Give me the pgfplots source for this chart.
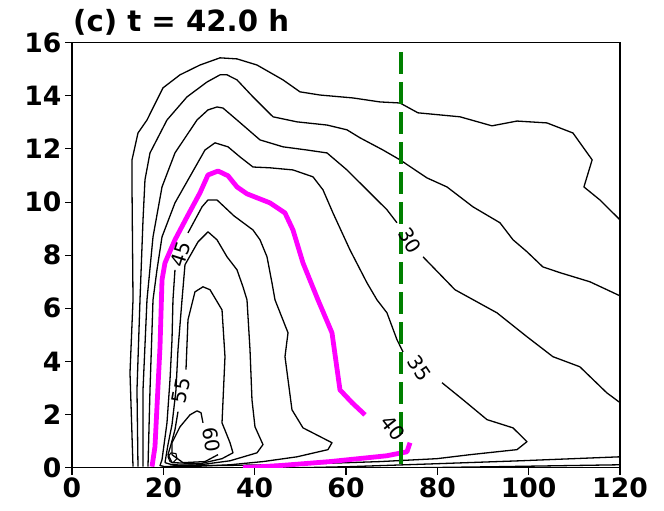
\documentclass[border=0pt]{standalone}
\usepackage{pgfplots}
\pgfplotsset{compat=1.18}
\usepackage{fontspec}
\setmainfont{DejaVu Sans}
\definecolor{dgreen}{RGB}{0,128,0}
\definecolor{mag}{RGB}{255,0,255}
\begin{document}
\begin{tikzpicture}
\begin{axis}[name=ax,
  width=548bp, height=425bp, scale only axis,
  xmin=0, xmax=120, ymin=0, ymax=16,
  xtick={0,20,...,120}, ytick={0,2,...,16},
  tick align=outside, xtick pos=bottom, ytick pos=left,
  major tick length=7bp,
  every tick/.style={black, line width=1.1bp},
  axis line style={line width=1.1bp},
  /pgf/number format/assume math mode=true,
  ticklabel style={font=\fontsize{26.7}{28}\selectfont\bfseries},
  clip=true,
  every axis plot/.append style={line join=round},
]
% 20
\addplot[black, line width=1.3bp] coordinates {(13.36,0.04)(12.70,3.57)(13.36,6.32)(13.14,10.57)(13.14,11.59)(14.45,12.60)(16.42,13.09)(19.93,14.30)(23.65,14.79)(28.03,15.16)(32.41,15.43)(36.13,15.39)(40.51,15.16)(46.20,14.60)(49.92,14.15)(54.30,14.03)(61.53,13.92)(67.44,13.77)(71.82,13.73)(75.76,13.36)(84.96,13.21)(91.96,12.87)(97.44,13.05)(104.0,12.98)(109.7,12.60)(113.9,11.59)(112.1,10.57)(115.6,10.08)(120,9.33)};
% 25
\addplot[black, line width=1.3bp] coordinates {(14.45,0.04)(14.23,2.93)(14.89,6.32)(15.55,9.33)(15.98,10.84)(17.08,11.85)(20.80,13.09)(25.18,13.96)(29.56,14.52)(32.41,14.79)(33.94,14.79)(36.13,14.60)(39.63,13.96)(44.01,13.21)(49.27,13.02)(55.84,12.90)(60.21,12.72)(63.06,12.42)(68.10,11.96)(71.82,11.59)(77.73,10.91)(82.11,10.57)(87.81,9.82)(93.72,9.22)(96.57,8.58)(99.63,8.13)(103.1,7.56)(106.9,7.34)(113.4,7.00)(120,6.47)};
\addplot[black, line width=1.3bp] coordinates {(76.2,0)(93.7,0.04)(120,0.11)};
% 30
\addplot[black, line width=1.3bp] coordinates {(15.55,0.04)(15.55,2.93)(16.42,6.32)(17.74,8.69)(19.71,10.57)(22.55,11.85)(27.37,13.09)(29.78,13.47)(31.75,13.58)(33.06,13.54)(36.13,13.09)(41.17,12.34)(46.20,12.08)(51.46,11.96)(55.84,11.85)(60.21,11.21)(64.59,10.46)(68.97,9.71)(71.16,9.22)};
\addplot[black, line width=1.3bp] coordinates {(76.86,7.94)(83.86,6.70)(93.06,5.83)(99.63,4.93)(105.3,4.18)(111.2,3.80)(117.1,2.82)(120,2.45)};
\addplot[black, line width=1.3bp] coordinates {(49.9,0)(60.9,0.04)(79.9,0.15)(98.1,0.26)(120,0.41)};
% 35
\addplot[black, line width=1.3bp] coordinates {(16.64,0.04)(17.08,2.93)(17.74,6.32)(18.61,7.45)(19.71,8.69)(22.55,9.97)(26.28,11.10)(29.12,11.96)(31.31,12.23)(34.16,12.08)(36.79,11.70)(39.63,11.32)(43.35,11.29)(48.39,11.21)(52.77,10.95)(54.96,10.46)(57.15,9.59)(60.87,8.20)(64.59,6.96)(66.78,6.32)(68.97,5.83)(71.16,4.82)(72.48,4.36)};
\addplot[black, line width=1.3bp] coordinates {(81.02,3.20)(85.61,2.56)(90.87,1.81)(96.56,1.50)(99.63,0.98)(97.44,0.68)(87.15,0.49)(79.92,0.34)(67.44,0.23)(49.92,0.13)(32.41,0.08)(21.46,0.11)};
% 40 (magenta)
\addplot[mag, line width=4.8bp] coordinates {(17.52,0.04)(18.17,0.79)(19.27,4.55)(19.71,7.07)(20.36,7.71)(22.55,8.58)(25.18,9.44)(28.03,10.35)(29.78,11.02)(31.97,11.17)(34.16,10.99)(36.13,10.57)(38.32,10.31)(43.35,9.97)(46.64,9.59)(48.39,8.95)(50.58,7.71)(53.86,6.32)(56.93,5.08)(58.68,2.93)(61.31,2.45)(64.16,1.99)};
\addplot[mag, line width=4.8bp] coordinates {(74.01,0.94)(73.35,0.60)(68.97,0.45)(56.49,0.23)(45.54,0.08)(37.44,0.0)};
% 45
\addplot[black, line width=1.3bp] coordinates {(22.55,7.45)(22.11,6.32)(21.90,4.82)(21.46,3.31)(20.80,1.69)(19.71,0.30)(19.27,0.08)(20.36,0.04)(25.84,0.04)(34.60,0.11)(41.82,0.23)(49.27,0.41)(56.05,0.68)(56.93,0.94)(50.58,1.50)(48.17,2.18)(46.64,4.18)(47.30,5.08)(44.45,6.32)(43.79,6.96)(42.70,7.94)(41.17,8.58)(39.63,8.95)(35.47,9.48)(31.75,10.08)(29.78,10.08)(28.47,9.82)(25.40,8.84)};
% 50
\addplot[black, line width=1.3bp] coordinates {(20.36,0.19)(21.02,0.87)(21.90,1.62)(22.77,2.93)(23.21,4.44)(24.09,6.32)(24.74,7.64)(27.59,8.50)(29.78,8.88)(31.75,8.58)(33.94,7.94)(36.13,7.45)(37.44,6.81)(38.32,6.32)(38.98,4.44)(39.41,2.56)(40.07,1.54)(41.82,0.87)(40.51,0.56)(34.60,0.26)(28.03,0.11)(22.55,0.08)(20.36,0.19)};
% 55
\addplot[black, line width=1.3bp] coordinates {(23.21,2.11)(22.55,1.43)(21.68,0.87)(21.02,0.49)(21.90,0.19)(28.03,0.15)(32.85,0.34)(35.25,0.56)(34.60,0.94)(32.85,1.69)(33.50,4.18)(32.85,5.94)(30.22,6.70)(28.68,6.81)(26.93,6.62)(25.40,5.57)(24.96,3.69)};
% 60
\addplot[black, line width=1.3bp] coordinates {(28.68,1.69)(28.25,2.07)(27.37,2.14)(25.84,1.99)(23.65,1.54)(21.90,0.94)(21.90,0.49)(24.30,0.19)(29.12,0.23)(31.97,0.49)};
% 65
\addplot[black, line width=1.1bp] coordinates {(21.46,0.23)(21.02,0.41)(21.68,0.56)(22.77,0.53)(22.99,0.34)(22.11,0.19)(21.46,0.23)};
% dashed line
\addplot[dgreen, line width=4.6bp, dash pattern=on 21.7bp off 8.3bp] coordinates {(72,15.65)(72,0)};
% labels
\begin{scope}[every node/.style={font=\fontsize{20}{20}\selectfont, inner sep=0pt}]
\node[rotate=-58] at (axis cs:74.0,8.55) {30};
\node[rotate=-56] at (axis cs:76.2,3.75) {35};
\node[rotate=-52] at (axis cs:70.4,1.50) {40};
\node[rotate=72] at (axis cs:23.9,8.05) {45};
\node[rotate=80] at (axis cs:23.9,2.90) {55};
\node[rotate=-82] at (axis cs:30.6,1.05) {60};
\end{scope}
\end{axis}
\node[anchor=base west, font=\fontsize{29.3}{30}\selectfont\bfseries, inner sep=0pt] at ([shift={(1bp,10.7bp)}]ax.north west) {(c) t = 42.0 h};
\path ([shift={(-72bp,-43bp)}]ax.south west) rectangle ([shift={(44bp,42.7bp)}]ax.north east);
\end{tikzpicture}
\end{document}
